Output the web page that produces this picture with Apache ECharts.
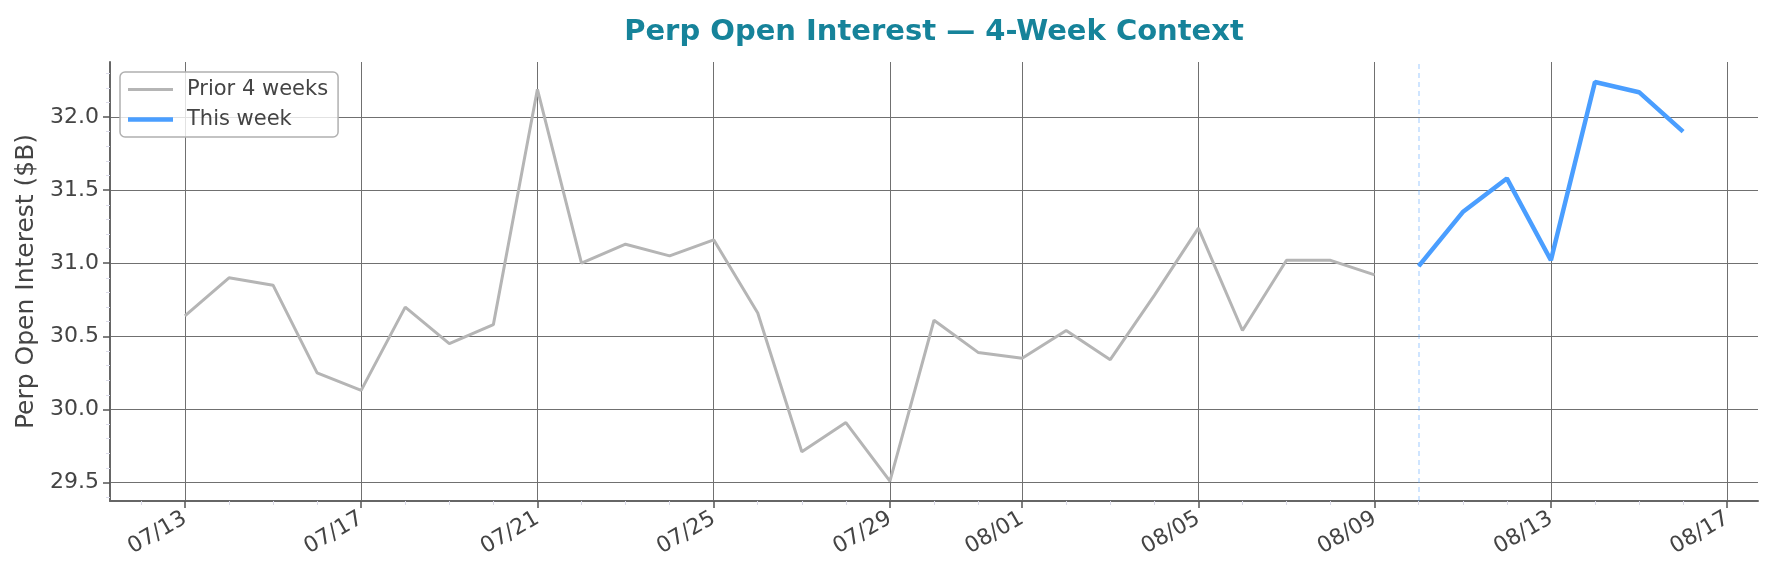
<!DOCTYPE html>
<html lang="en">
<head>
<meta charset="UTF-8">
<title>Perp Open Interest — 4-Week Context</title>
<script src="https://cdn.jsdelivr.net/npm/echarts@6/dist/echarts.min.js"></script>
<style>
    html, body { margin: 0; padding: 0; background: #fff; }
    #chart { width: 1773px; height: 576px; }
</style>
</head>
<body>
<div id="chart"></div>
<script>
    // prior 4 weeks (grey) and this week (blue), values in $B
    var priorDates = ['07/13', '07/14', '07/15', '07/16', '07/17', '07/18', '07/19', '07/20', '07/21', '07/22',
        '07/23', '07/24', '07/25', '07/26', '07/27', '07/28', '07/29', '07/30', '07/31', '08/01',
        '08/02', '08/03', '08/04', '08/05', '08/06', '08/07', '08/08', '08/09'];
    var priorValues = [30.64, 30.90, 30.85, 30.25, 30.13, 30.70, 30.45, 30.58, 32.19, 31.00,
        31.13, 31.05, 31.16, 30.66, 29.71, 29.91, 29.51, 30.61, 30.39, 30.35,
        30.54, 30.34, 30.78, 31.24, 30.54, 31.02, 31.02, 30.92];
    var weekDates = ['08/10', '08/11', '08/12', '08/13', '08/14', '08/15', '08/16'];
    var weekValues = [30.98, 31.35, 31.58, 31.02, 32.24, 32.17, 31.90];

    var xTickLabels = ['07/13', '07/17', '07/21', '07/25', '07/29', '08/01', '08/05', '08/09', '08/13', '08/17'];
    var yTicks = [29.5, 30.0, 30.5, 31.0, 31.5, 32.0];

    var FONT = 'DejaVu Sans';
    var base = Date.UTC(2025, 6, 13);

    function dayIndex(md) {
        var p = md.split('/');
        return (Date.UTC(2025, +p[0] - 1, +p[1]) - base) / 86400000;
    }
    function pad(n) { return n < 10 ? '0' + n : '' + n; }
    function labelOf(d) {
        var t = new Date(base + Math.round(d) * 86400000);
        return pad(t.getUTCMonth() + 1) + '/' + pad(t.getUTCDate());
    }

    var priorData = priorDates.map(function (d, i) { return [dayIndex(d), priorValues[i]]; });
    var weekData = weekDates.map(function (d, i) { return [dayIndex(d), weekValues[i]]; });
    var xMajor = xTickLabels.map(dayIndex);

    // matplotlib style 5% margins
    var allX = priorData.concat(weekData).map(function (p) { return p[0]; });
    var allY = priorValues.concat(weekValues);
    var x0 = Math.min.apply(null, allX), x1 = Math.max.apply(null, allX);
    var y0 = Math.min.apply(null, allY), y1 = Math.max.apply(null, allY);
    var xMin = x0 - (x1 - x0) * 0.05, xMax = x1 + (x1 - x0) * 0.05;
    var yMin = y0 - (y1 - y0) * 0.05, yMax = y1 + (y1 - y0) * 0.05;

    var xMinor = [];
    for (var d = Math.ceil(xMin); d <= Math.floor(xMax); d++) {
        if (xMajor.indexOf(d) < 0) xMinor.push(d);
    }
    var yMinor = [];
    for (var k = Math.ceil(yMin * 10); k <= Math.floor(yMax * 10); k++) {
        if (k % 5 !== 0) yMinor.push(k / 10);
    }

    // legend handles: a bar inside a 45x14 box (tiny corner marks keep the box size)
    var corners = 'M0,0L0.01,0L0,0.01Z M45,14L44.99,14L45,13.99Z ';
    var greyHandle = 'path://' + corners + 'M0,5.5H45V8.5H0Z';
    var blueHandle = 'path://' + corners + 'M0,4.75H45V9.25H0Z';

    var mychart = echarts.init(document.getElementById('chart'));
    var option = {
        animation: false,
        backgroundColor: '#fff',
        title: {
            text: 'Perp Open Interest — 4-Week Context',
            left: 934,
            textAlign: 'center',
            top: 18,
            padding: 0,
            textStyle: { fontFamily: FONT, fontSize: 29, fontWeight: 'bold', color: '#16839a' }
        },
        legend: {
            orient: 'vertical',
            left: 120,
            top: 72,
            padding: [7, 10, 7, 8],
            itemGap: 9,
            itemWidth: 45,
            itemHeight: 14,
            backgroundColor: 'rgba(255,255,255,0.8)',
            borderColor: '#b0b0b0',
            borderWidth: 1.5,
            borderRadius: 5,
            textStyle: { fontFamily: FONT, fontSize: 21, color: '#444', padding: [0, 0, 0, 9] },
            data: [
                { name: 'Prior 4 weeks', icon: greyHandle, itemStyle: { color: '#b5b5b5' } },
                { name: 'This week', icon: blueHandle, itemStyle: { color: '#4a9eff' } }
            ]
        },
        grid: { left: 110, right: 15, top: 62, bottom: 75, containLabel: false },
        xAxis: [{
            type: 'value',
            min: xMin,
            max: xMax,
            position: 'bottom',
            axisLine: { show: true, onZero: false, lineStyle: { color: '#666', width: 2 } },
            axisTick: { show: true, length: 7, customValues: xMajor, lineStyle: { color: '#555', width: 1.5 } },
            axisLabel: {
                customValues: xMajor,
                formatter: labelOf,
                rotate: 30,
                margin: 16,
                fontFamily: FONT,
                fontSize: 22,
                color: '#444'
            },
            splitLine: { show: true, lineStyle: { color: '#707070', width: 1 } }
        }, {
            type: 'value',
            min: xMin,
            max: xMax,
            position: 'bottom',
            axisLine: { show: false, onZero: false },
            axisTick: { show: true, length: 4, customValues: xMinor, lineStyle: { color: '#dadae8', width: 1 } },
            axisLabel: { show: false },
            splitLine: { show: false }
        }],
        yAxis: [{
            type: 'value',
            min: yMin,
            max: yMax,
            position: 'left',
            name: 'Perp Open Interest ($B)',
            nameLocation: 'middle',
            nameGap: 69,
            nameTextStyle: { fontFamily: FONT, fontSize: 25, color: '#444' },
            axisLine: { show: true, onZero: false, lineStyle: { color: '#666', width: 2 } },
            axisTick: { show: true, length: 7, customValues: yTicks, lineStyle: { color: '#555', width: 1.5 } },
            axisLabel: {
                customValues: yTicks,
                formatter: function (v) { return v.toFixed(1); },
                margin: 11,
                fontFamily: FONT,
                fontSize: 22,
                color: '#444'
            },
            splitLine: { show: true, lineStyle: { color: '#707070', width: 1 } }
        }, {
            type: 'value',
            min: yMin,
            max: yMax,
            position: 'left',
            axisLine: { show: false, onZero: false },
            axisTick: { show: true, length: 4, customValues: yMinor, lineStyle: { color: '#dadae8', width: 1 } },
            axisLabel: { show: false },
            splitLine: { show: false }
        }],
        series: [{
            name: 'Prior 4 weeks',
            type: 'line',
            xAxisIndex: 0,
            yAxisIndex: 0,
            data: priorData,
            symbol: 'none',
            showSymbol: false,
            itemStyle: { color: '#b5b5b5' },
            lineStyle: { color: '#b5b5b5', width: 3 },
            z: 3
        }, {
            name: 'This week',
            type: 'line',
            xAxisIndex: 0,
            yAxisIndex: 0,
            data: weekData,
            symbol: 'none',
            showSymbol: false,
            itemStyle: { color: '#4a9eff' },
            lineStyle: { color: '#4a9eff', width: 4.5 },
            z: 4,
            markLine: {
                silent: true,
                symbol: ['none', 'none'],
                label: { show: false },
                lineStyle: { color: 'rgba(74,158,255,0.35)', type: [5, 4], width: 1.5 },
                data: [{ xAxis: dayIndex('08/10') }]
            }
        }]
    };
    mychart.setOption(option);
</script>
</body>
</html>
